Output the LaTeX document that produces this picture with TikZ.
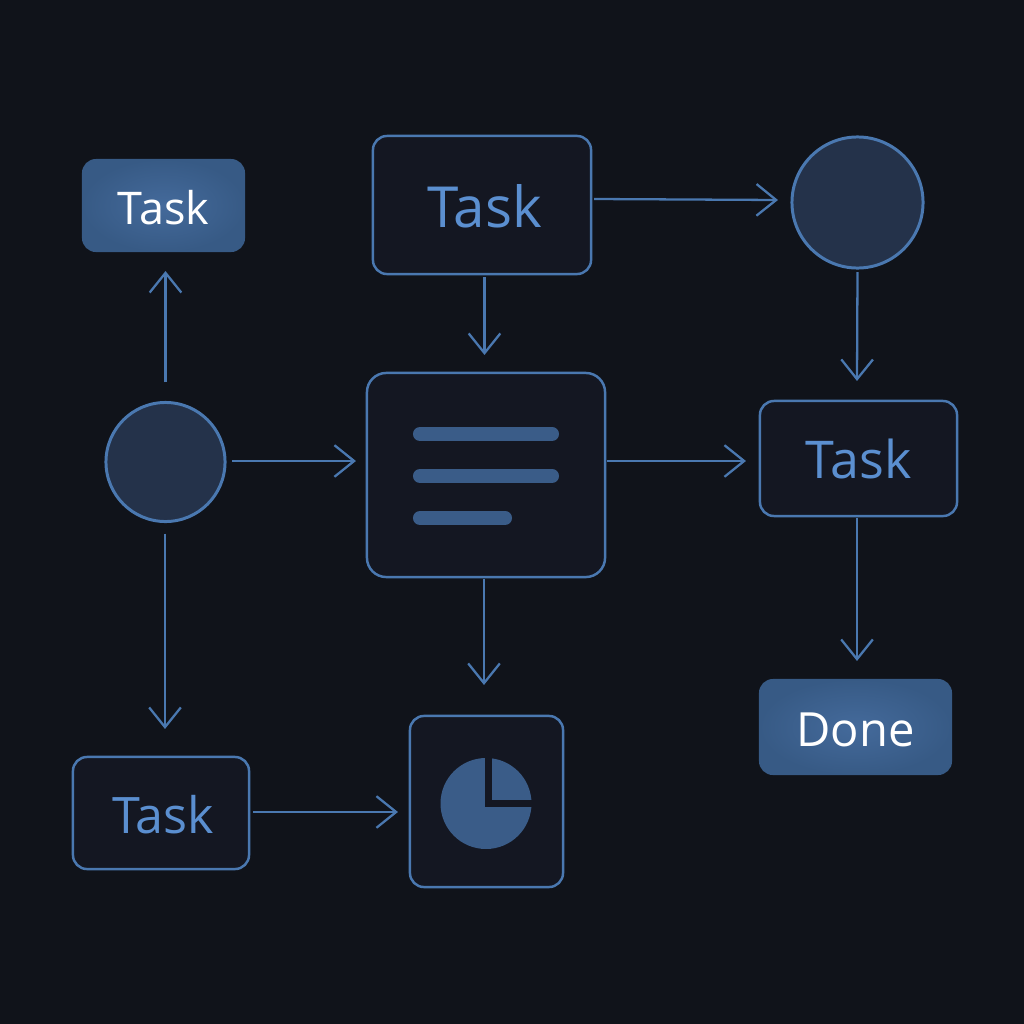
\documentclass[tikz,border=0pt]{standalone}
\usepackage{fontspec}
\setmainfont{Open Sans}
\usetikzlibrary{arrows.meta,shapes,calc}
\definecolor{bgdark}{HTML}{10131A}
\definecolor{boxdark}{HTML}{141722}
\definecolor{linkblue}{HTML}{4A78B0}
\definecolor{textblue}{HTML}{5B8FD0}
\definecolor{fillblue}{HTML}{446A9B}
\definecolor{fillblueedge}{HTML}{375A85}
\definecolor{pieblue}{HTML}{3A5C88}
\definecolor{circdark}{HTML}{24324A}

\begin{document}
\begin{tikzpicture}[x=0.01cm,y=-0.01cm,
   box/.style={rectangle, rounded corners=4pt, draw=linkblue, fill=boxdark, line width=0.7pt, text=textblue, outer sep=0pt, inner sep=0pt},
   solid box/.style={rectangle, rounded corners=4pt, inner color=fillblue, outer color=fillblueedge, text=white, outer sep=0pt, inner sep=0pt},
   dot/.style={circle, draw=linkblue, fill=circdark, line width=0.85pt, outer sep=0pt, inner sep=0pt},
   flow/.style={draw=linkblue, line width=0.65pt, -{Straight Barb[length=5.6pt,width=9pt]}},
   bar/.style={draw=pieblue, line width=4pt, line cap=round}]
   \fill[bgdark] (0,0) rectangle (1024,1024);
   \useasboundingbox (0,0) rectangle (1024,1024);

   % upper row
   \node[solid box, minimum width=1.63cm, minimum height=0.93cm, text height=10.7pt, text depth=0pt, font=\fontsize{12.8}{15}\selectfont] (start) at (163.5,205.5) {Task};
   \node[box, minimum width=2.18cm, minimum height=1.38cm, text height=13pt, text depth=0pt, font=\fontsize{16.1}{18}\selectfont] (upper) at (482,205) {\hspace*{1.5pt}Task};
   \node[dot, minimum size=1.31cm] (upperdot) at (857.5,202.5) {};
   \coordinate (upperdotin) at (778,200);

   % middle row
   \node[dot, minimum size=1.19cm] (leftdot) at (165.5,462) {};
   \node[box, minimum width=2.38cm, minimum height=2.04cm, rounded corners=5.5pt] (notes) at (486,475) {};
   \node[box, minimum width=1.97cm, minimum height=1.15cm, font=\fontsize{14.8}{17}\selectfont] (right) at (858.5,458.5) {Task};
   \draw[bar] (420,434) -- (552,434);
   \draw[bar] (420,476) -- (552,476);
   \draw[bar] (420,518) -- (505,518);

   % lower row
   \node[box, minimum width=1.76cm, minimum height=1.12cm, text height=11.6pt, text depth=0pt, font=\fontsize{14.3}{16}\selectfont] (lower) at (161,813) {\hspace*{1.2pt}Task};
   \node[box, minimum width=1.53cm, minimum height=1.71cm] (chart) at (486.5,801.5) {};
   \node[solid box, minimum width=1.93cm, minimum height=0.96cm, text height=11.3pt, text depth=0pt, font=\fontsize{13.4}{16}\selectfont] (done) at (855.5,727) {Done};

   % pie in the chart box
   \fill[pieblue] (486,803.5) circle (45.5);
   \draw[boxdark, line width=2pt, miter limit=10] (488.5,750) -- (488.5,803.5) -- (540,803.5);

   \draw[flow] ([shift={(3,-6)}]upper.east) -- (upperdotin);
   \draw[flow] ([shift={(2.5,3)}]upper.south) -- ([shift={(-1.5,-18)}]notes.north);
   \draw[flow] ([shift={(0,4)}]upperdot.south) -- ([shift={(-1.5,-20)}]right.north);
   \draw[flow] ([shift={(0,-20)}]leftdot.north) -- ([shift={(2,19)}]start.south);
   \draw[flow] ([shift={(7,-1)}]leftdot.east) -- ([shift={(-11,-14)}]notes.west);
   \draw[flow] ([shift={(-0.5,12)}]leftdot.south) -- ([shift={(4,-28)}]lower.north);
   \draw[flow] ([shift={(2,-14)}]notes.east) -- ([shift={(-14,2.5)}]right.west);
   \draw[flow] ([shift={(-2,2)}]notes.south) -- ([shift={(-2.5,-31)}]chart.north);
   \draw[flow] ([shift={(-1.5,2)}]right.south) -- ([shift={(1.5,-18)}]done.north);
   \draw[flow] ([shift={(4,-1)}]lower.east) -- ([shift={(-12,10.5)}]chart.west);
\end{tikzpicture}
\end{document}
